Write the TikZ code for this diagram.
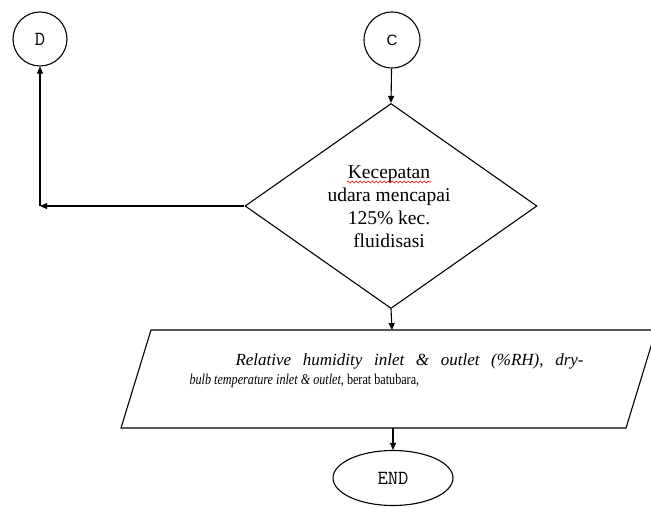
\documentclass[tikz,border=0pt]{standalone}
\usepackage{fontspec}
\usepackage{graphicx}
\setmainfont{Liberation Serif}
\newfontfamily\sansf{Liberation Sans}
\usetikzlibrary{shapes.geometric,arrows.meta,decorations.pathmorphing}
\begin{document}
\begin{tikzpicture}[x=1pt,y=-1pt,
  line width=1.1pt,
  conn/.style={-{Triangle[length=7pt,width=6pt]}},
  term/.style={draw,circle,inner sep=0pt},
  txt/.style={inner sep=0pt}]
\useasboundingbox (0,0) rectangle (651,508);
\node[term,minimum size=54pt,font=\ttfamily\fontsize{20}{20}\selectfont] (D) at (40,39) {D};
\node[term,minimum size=56pt,font=\sansf\fontsize{15}{15}\selectfont] (C) at (392,40) {C};
\node[draw,diamond,inner sep=0pt,minimum width=292pt,minimum height=205pt] (dia) at (391,206) {};
\node[txt,align=center,font=\fontsize{19.5}{23}\selectfont] (diatext) at (389,207) {Kecepatan\\udara mencapai\\125\% kec.\\fluidisasi};
\draw[red,line width=0.6pt,decorate,decoration={snake,amplitude=0.9pt,segment length=4pt}] (347,182) -- (431,182);
\coordinate (pTL) at (151,330);
\coordinate (pTR) at (656,330);
\coordinate (pBR) at (626,428);
\coordinate (pBL) at (121,428);
\draw (pTL) -- (pTR) -- (pBR) -- (pBL) -- cycle;
\coordinate (pTop) at (392,330);
\coordinate (pBot) at (393,428);
\node[txt,anchor=base west,font=\fontsize{17}{20}\selectfont] (line1) at (235,365) {\makebox[348pt][s]{\itshape Relative humidity inlet \& outlet (\%RH), dry-}};
\node[txt,anchor=base west,font=\fontsize{15}{18}\selectfont] (line2) at (189,384) {\scalebox{0.81}[1]{\itshape bulb temperature inlet \& outlet,\upshape{} berat batubara,}};
\node[draw,ellipse,inner sep=0pt,minimum width=120pt,minimum height=55pt,font=\ttfamily\fontsize{20}{20}\selectfont] (END) at (393,478) {END};
\coordinate (corner) at (D.south |- dia.west);
\draw[conn] (C) -- (dia.north);
\draw[conn] (dia.west) -- (corner);
\draw[conn] (corner) -- (D.south);
\draw[conn] (dia.south) -- (pTop);
\draw[conn] (pBot) -- (END.north);
\end{tikzpicture}
\end{document}
